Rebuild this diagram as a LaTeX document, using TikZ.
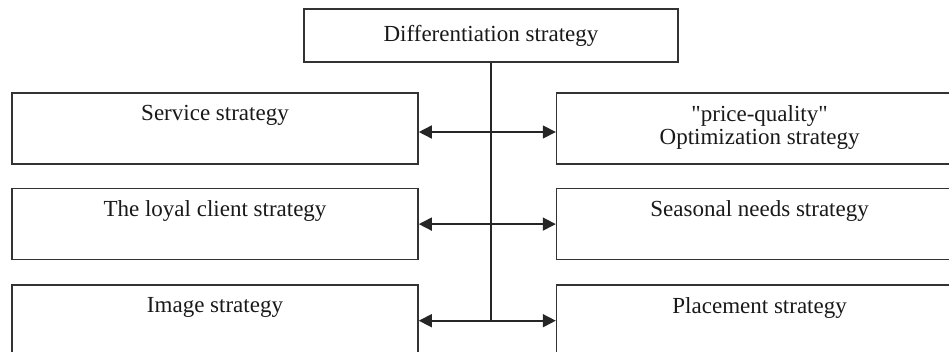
\documentclass[tikz,border=0pt]{standalone}
\usepackage{fontspec}
\setmainfont{Liberation Serif}[Ligatures=TeXOff]
\usetikzlibrary{arrows.meta,positioning}

\begin{document}
\begin{tikzpicture}[x=1pt,y=-1pt,
    strategy/.style={draw=black!80,line width=1.6pt,minimum width=406pt,minimum height=71pt,inner sep=0pt},
    boxtext/.style={inner sep=0pt,align=center,font=\fontsize{23pt}{23.5pt}\selectfont,text=black!90},
    both/.style={{Triangle[length=13pt,width=13pt]}-{Triangle[length=13pt,width=13pt]},line width=1.6pt,draw=black!85}]
    \useasboundingbox (0,0) rectangle (949,351);
    \clip (0,0) rectangle (949,351);
    \node[strategy,minimum width=374pt,minimum height=53pt] (differentiation) at (491,35.5) {};
    \node[strategy] (service) at (215,128.5) {};
    \node[strategy] (loyal client) [below=23pt of service] {};
    \node[strategy] (image) [below=24pt of loyal client] {};
    \draw[line width=1.6pt,draw=black!85] (differentiation.south) -- (differentiation.south |- image.east);
    \node[strategy] (price quality) [right=137pt of service] {};
    \draw[both] ([yshift=-3.5pt]service.east) -- ([yshift=-3.5pt]price quality.west);
    \node[strategy] (seasonal needs) [right=137pt of loyal client] {}
    edge [both] (loyal client);
    \node[strategy] (placement) [right=137pt of image] {}
    edge [both] (image);
    % texts
    \node[boxtext] (differentiation text) at (differentiation) {Differentiation strategy};
    \node[boxtext] (service text) [below=13pt of service.north] {Service strategy};
    \node[boxtext] (loyal client text) [below=13pt of loyal client.north] {The loyal client strategy};
    \node[boxtext] (image text) [below=13pt of image.north] {Image strategy};
    \node[boxtext] (price quality text) [below=13pt of price quality.north] {"price-quality"\\Optimization strategy};
    \node[boxtext] (seasonal needs text) [below=13pt of seasonal needs.north] {Seasonal needs strategy};
    \node[boxtext] (placement text) [below=13pt of placement.north] {Placement strategy};
\end{tikzpicture}
\end{document}
